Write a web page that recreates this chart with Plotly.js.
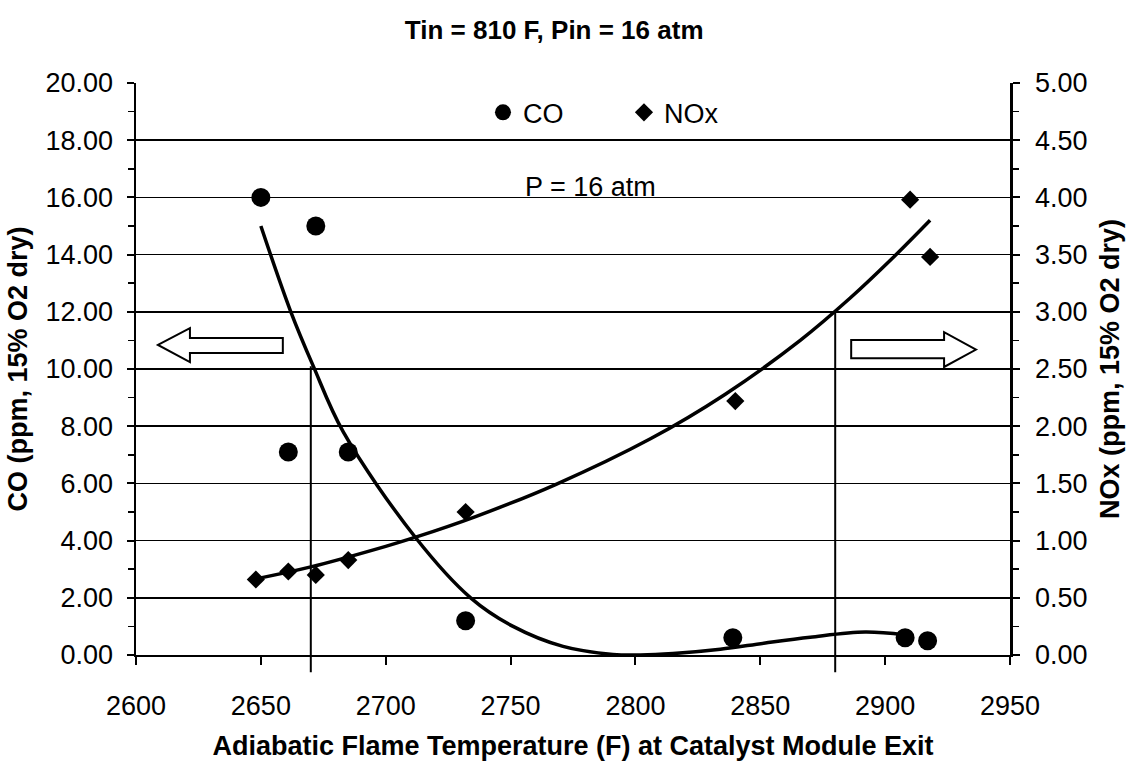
<!DOCTYPE html>
<html>
<head>
<meta charset="utf-8">
<script src="https://cdn.plot.ly/plotly-3.0.1.min.js"></script>
<style>html,body{margin:0;padding:0;background:#fff;}#chart{width:1131px;height:766px;}</style>
</head>
<body>
<div id="chart"></div>
<script>
// Measured data (CO on left axis, NOx on right axis)
const coTemp = [2650, 2661, 2672, 2685, 2732, 2839, 2908, 2917];
const coPpm  = [16.0, 7.1, 15.0, 7.1, 1.2, 0.6, 0.6, 0.5];
const noxTemp = [2648, 2661, 2672, 2685, 2732, 2840, 2910, 2918];
const noxPpm  = [0.66, 0.73, 0.70, 0.83, 1.25, 2.22, 3.98, 3.48];

// Trend curves
const coFitTemp = [2650, 2662, 2671, 2683, 2712, 2734, 2751, 2771, 2791, 2802, 2815, 2834, 2852, 2870, 2892, 2908];
const coFitPpm  = [15.0, 12.0, 10.1, 7.8, 4.1, 2.0, 1.0, 0.3, 0.02, 0.0, 0.05, 0.2, 0.42, 0.62, 0.80, 0.70];
const noxFitTemp = [2649, 2670, 2700, 2712, 2736, 2768, 2806, 2836, 2866, 2886, 2903, 2918];
const noxFitPpm  = [0.67, 0.77, 0.95, 1.03, 1.21, 1.49, 1.89, 2.28, 2.75, 3.12, 3.47, 3.80];

// Reference markers (vertical lines): temperature and CO level where they stop
const refTemps = [2670, 2880];
const refCoLevels = [10.1, 12.0];

const xTicks = [2600, 2650, 2700, 2750, 2800, 2850, 2900, 2950];
const coTicks = [0, 2, 4, 6, 8, 10, 12, 14, 16, 18, 20];
const noxTicks = [0, 0.5, 1, 1.5, 2, 2.5, 3, 3.5, 4, 4.5, 5];

const FONT = 'Liberation Sans, Arial, sans-serif';
const coMax = 20, noxMax = 5;

const traces = [
  {x: coFitTemp, y: coFitPpm, mode: 'lines', line: {color: '#000', width: 3.5, shape: 'spline', smoothing: 1}, showlegend: false, hoverinfo: 'skip', yaxis: 'y'},
  {x: noxFitTemp, y: noxFitPpm, mode: 'lines', line: {color: '#000', width: 3.5, shape: 'spline', smoothing: 1}, showlegend: false, hoverinfo: 'skip', yaxis: 'y2'},
  {x: coTemp, y: coPpm, name: 'CO', mode: 'markers', marker: {symbol: 'circle', size: 19, color: '#000'}, yaxis: 'y'},
  {x: noxTemp, y: noxPpm, name: 'NOx', mode: 'markers', marker: {symbol: 'diamond', size: 14, color: '#000'}, yaxis: 'y2'}
];

const shapes = refTemps.map((t, i) => ({
  type: 'line', xref: 'x', yref: 'paper', x0: t, x1: t, y0: -0.03, y1: refCoLevels[i] / coMax,
  line: {color: '#000', width: 2}
}));
shapes.push({type: 'path', xref: 'x', yref: 'y',
  path: 'M2608.8,10.84 L2621.6,11.43 L2621.6,11.08 L2658.8,11.08 L2658.8,10.56 L2621.6,10.56 L2621.6,10.24 Z',
  line: {color: '#000', width: 2}, fillcolor: '#fff'});
shapes.push({type: 'path', xref: 'x', yref: 'y',
  path: 'M2936.4,10.68 L2923.6,11.29 L2923.6,11.01 L2886.4,11.01 L2886.4,10.38 L2923.6,10.38 L2923.6,10.07 Z',
  line: {color: '#000', width: 2}, fillcolor: '#fff'});

const layout = {
  width: 1131, height: 766,
  margin: {l: 136, r: 121, t: 83, b: 111},
  paper_bgcolor: '#fff', plot_bgcolor: '#fff',
  font: {family: FONT, color: '#000', size: 27},
  title: {text: 'Tin = 810 F, Pin = 16 atm', font: {family: FONT, size: 26, weight: 'bold', color: '#000'},
          x: 0.49, xanchor: 'center', xref: 'container', y: 1 - 30/766, yanchor: 'middle', yref: 'container'},
  xaxis: {
    range: [2600, 2950], tickmode: 'array', tickvals: xTicks, ticktext: xTicks.map(String),
    showgrid: false, zeroline: false, showline: true, linecolor: '#000', linewidth: 2,
    ticks: 'outside', ticklen: 8, tickwidth: 2, tickcolor: '#000', ticklabelstandoff: 18,
    tickfont: {size: 27},
    title: {text: 'Adiabatic Flame Temperature (F) at Catalyst Module Exit', font: {size: 27, weight: 'bold'}, standoff: 16}
  },
  yaxis: {
    range: [0, coMax], tickmode: 'array', tickvals: coTicks, ticktext: coTicks.map(v => v.toFixed(2)),
    showgrid: true, gridcolor: '#000', gridwidth: 1.6, zeroline: false,
    showline: true, linecolor: '#000', linewidth: 2.5,
    ticks: 'outside', ticklen: 7, tickwidth: 2, tickcolor: '#000', ticklabelstandoff: 8,
    minor: {dtick: 1, ticks: 'outside', ticklen: 6, tickwidth: 1.5, tickcolor: '#000', showgrid: false},
    tickfont: {size: 27},
    title: {text: 'CO (ppm, 15% O2 dry)', font: {size: 27, weight: 'bold'}, standoff: 10}
  },
  yaxis2: {
    range: [0, noxMax], overlaying: 'y', side: 'right', tickmode: 'array', tickvals: noxTicks, ticktext: noxTicks.map(v => v.toFixed(2)),
    showgrid: false, zeroline: false, showline: true, linecolor: '#000', linewidth: 2.5,
    ticks: 'outside', ticklen: 7, tickwidth: 2, tickcolor: '#000', ticklabelstandoff: 10,
    minor: {dtick: 0.25, ticks: 'outside', ticklen: 6, tickwidth: 1.5, tickcolor: '#000', showgrid: false},
    tickfont: {size: 27},
    title: {text: 'NOx (ppm, 15% O2 dry)', font: {size: 27, weight: 'bold'}, standoff: 14}
  },
  legend: {orientation: 'h', x: 0.397, xanchor: 'left', y: 0.948, yanchor: 'middle',
           font: {size: 27}, bgcolor: 'rgba(0,0,0,0)', entrywidth: 96, entrywidthmode: 'pixels'},
  annotations: [{text: 'P = 16 atm', xref: 'x', yref: 'y', x: 2782, y: 16.36, showarrow: false,
                 font: {size: 27}, xanchor: 'center', yanchor: 'middle'}],
  shapes: shapes,
  showlegend: true
};

Plotly.newPlot('chart', traces, layout, {displayModeBar: false, staticPlot: true});
</script>
</body>
</html>
